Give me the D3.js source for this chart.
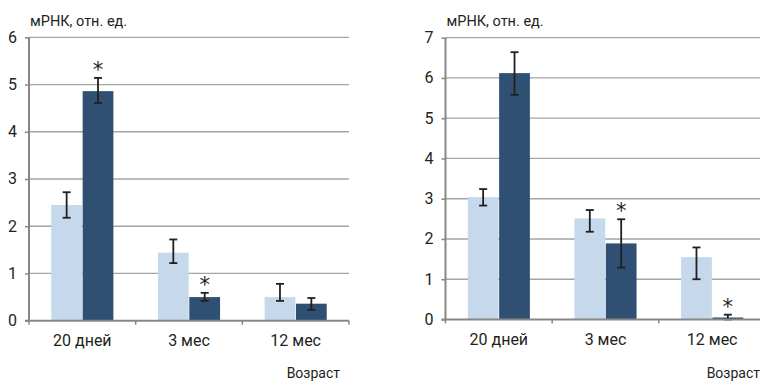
<!DOCTYPE html>
<html>
<head>
<meta charset="utf-8">
<script src="https://cdn.jsdelivr.net/npm/d3@7"></script>
<style>
  html, body { margin: 0; padding: 0; background: #fff; }
  svg { display: block; }
  text { font-family: Roboto, "Noto Sans", sans-serif; fill: #231f20; }
</style>
</head>
<body>
<svg id="chart" width="760" height="381"></svg>
<script>
// Age groups on the x axis
const categories = ["20 дней", "3 мес", "12 мес"];

// Left panel: control (light) and treated (dark), mean with error bar ends
const leftControl   = [2.45, 1.44, 0.50];
const leftControlHi = [2.72, 1.72, 0.78];
const leftControlLo = [2.18, 1.22, 0.42];
const leftTreated   = [4.86, 0.50, 0.36];
const leftTreatedHi = [5.14, 0.59, 0.48];
const leftTreatedLo = [4.61, 0.42, 0.23];
const leftTreatedSig = [true, true, false];
const leftTicks = [0, 1, 2, 3, 4, 5, 6];

// Right panel
const rightControl   = [3.04, 2.51, 1.55];
const rightControlHi = [3.24, 2.72, 1.79];
const rightControlLo = [2.83, 2.18, 1.00];
const rightTreated   = [6.12, 1.89, 0.05];
const rightTreatedHi = [6.64, 2.49, 0.12];
const rightTreatedLo = [5.58, 1.29, 0.00];
const rightTreatedSig = [false, true, true];
const rightTicks = [0, 1, 2, 3, 4, 5, 6, 7];

const yTitle = "мРНК, отн. ед.";
const xTitle = "Возраст";
const seriesKeys = ["control", "treated"];
const colors = { control: "#c5d8ec", treated: "#2f5072" };

const svg = d3.select("#chart");

function panel(opts) {
  const g = svg.append("g");
  const x = d3.scaleBand().domain(categories).range([opts.x0, opts.x1]).paddingInner(0).paddingOuter(0);
  const sub = d3.scaleBand().domain(seriesKeys).range([0, x.bandwidth()]).paddingInner(0.02).paddingOuter(0.71);
  const y = d3.scaleLinear().domain([0, opts.max]).range([opts.y0, opts.y1]);

  // horizontal gridlines
  g.append("g").selectAll("line")
    .data(opts.ticks.filter(t => t > 0))
    .join("line")
    .attr("x1", opts.x0).attr("x2", opts.x1)
    .attr("y1", d => y(d)).attr("y2", d => y(d))
    .attr("stroke", "#a4a4a4").attr("stroke-width", 1.3);

  const rows = categories.map((c, i) => ({
    cat: c,
    vals: [
      { key: "control", v: opts.control[i], hi: opts.controlHi[i], lo: opts.controlLo[i], sig: false },
      { key: "treated", v: opts.treated[i], hi: opts.treatedHi[i], lo: opts.treatedLo[i], sig: opts.sig[i] }
    ]
  }));

  const groups = g.append("g").selectAll("g")
    .data(rows).join("g")
    .attr("transform", d => `translate(${x(d.cat)},0)`);

  groups.selectAll("rect")
    .data(d => d.vals).join("rect")
    .attr("x", d => sub(d.key))
    .attr("width", sub.bandwidth())
    .attr("y", d => y(d.v))
    .attr("height", d => y(0) - y(d.v))
    .attr("fill", d => colors[d.key]);

  // error bars
  const eb = groups.selectAll("g.err")
    .data(d => d.vals).join("g").attr("class", "err")
    .attr("stroke", "#231f20").attr("stroke-width", 1.8);
  const cx = d => sub(d.key) + sub.bandwidth() / 2;
  eb.append("line").attr("x1", cx).attr("x2", cx)
    .attr("y1", d => y(d.hi)).attr("y2", d => y(d.lo));
  eb.append("line").attr("x1", d => cx(d) - 4).attr("x2", d => cx(d) + 4)
    .attr("y1", d => y(d.hi)).attr("y2", d => y(d.hi));
  eb.append("line").attr("x1", d => cx(d) - 4).attr("x2", d => cx(d) + 4)
    .attr("y1", d => y(d.lo)).attr("y2", d => y(d.lo));

  // significance marks
  groups.selectAll("text.sig")
    .data(d => d.vals.filter(v => v.sig)).join("text").attr("class", "sig")
    .attr("x", cx)
    .attr("y", d => y(d.hi) - 1)
    .attr("text-anchor", "middle")
    .style("font-family", "'DejaVu Sans', sans-serif")
    .style("font-size", "21px")
    .text("*");

  // left axis
  const ya = g.append("g").attr("transform", `translate(${opts.x0},0)`)
    .call(d3.axisLeft(y).tickValues(opts.ticks).tickFormat(d3.format("d")).tickSize(4).tickPadding(8));
  ya.select(".domain").attr("stroke", "#878787").attr("stroke-width", 2)
    .attr("d", `M0,${y(opts.max)}V${y(0)}`);
  ya.selectAll(".tick line").attr("stroke", "#878787").attr("stroke-width", 1.5);
  ya.selectAll(".tick text").style("font-size", "16px").attr("fill", "#231f20").attr("dy", "0.3em");

  // bottom axis with ticks between categories
  const xa = g.append("g").attr("transform", `translate(0,${y(0)})`);
  xa.append("line").attr("x1", opts.x0 - 4).attr("x2", opts.x1)
    .attr("stroke", "#878787").attr("stroke-width", 2);
  const bounds = categories.map(c => x(c)).concat([opts.x1]);
  xa.selectAll("line.tk").data(bounds).join("line").attr("class", "tk")
    .attr("x1", d => d).attr("x2", d => d).attr("y1", 0).attr("y2", 4)
    .attr("stroke", "#878787").attr("stroke-width", 1.5);
  xa.selectAll("text").data(categories).join("text")
    .attr("x", d => x(d) + x.bandwidth() / 2)
    .attr("y", 25)
    .attr("text-anchor", "middle")
    .style("font-size", "16px")
    .text(d => d);

  g.append("text").attr("x", opts.x0 + 1).attr("y", opts.titleY)
    .style("font-size", "14.5px").text(yTitle);
  g.append("text").attr("x", opts.xTitleX).attr("y", 378)
    .attr("text-anchor", "end")
    .style("font-size", "14px").text(xTitle);
}

panel({
  x0: 29, x1: 349, y0: 320.7, y1: 37.3, max: 6, ticks: leftTicks,
  control: leftControl, controlHi: leftControlHi, controlLo: leftControlLo,
  treated: leftTreated, treatedHi: leftTreatedHi, treatedLo: leftTreatedLo,
  sig: leftTreatedSig, titleY: 26, xTitleX: 340
});
panel({
  x0: 445.5, x1: 765.5, y0: 319.5, y1: 37.7, max: 7, ticks: rightTicks,
  control: rightControl, controlHi: rightControlHi, controlLo: rightControlLo,
  treated: rightTreated, treatedHi: rightTreatedHi, treatedLo: rightTreatedLo,
  sig: rightTreatedSig, titleY: 26, xTitleX: 760
});
</script>
</body>
</html>
